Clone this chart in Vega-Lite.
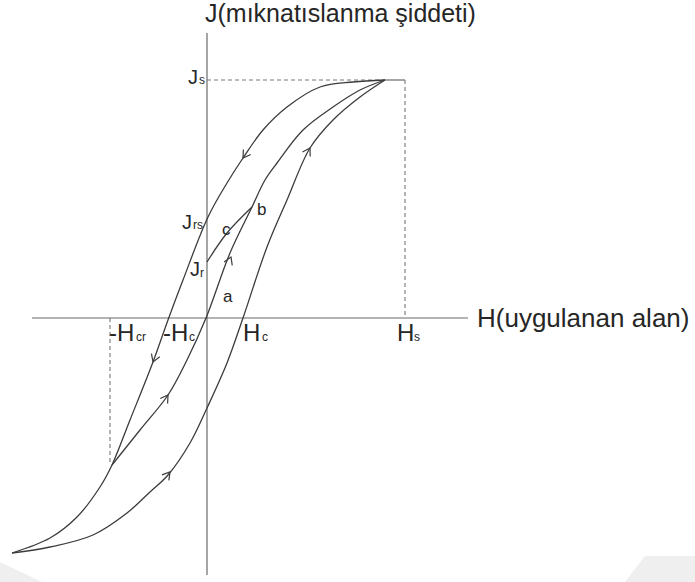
{
  "$schema": "https://vega.github.io/schema/vega-lite/v6.json",
  "width": 695,
  "height": 582,
  "padding": 0,
  "autosize": {"type": "fit", "contains": "padding"},
  "background": "white",
  "config": {"view": {"stroke": null}, "text": {"font": "Liberation Sans", "color": "#262626"}},
  "datasets": {
    "corners": [
      {"corner": "left", "H": -207, "J": -244, "J2": -264},
      {"corner": "left", "H": -165, "J": -264, "J2": -264},
      {"corner": "right", "H": 418, "J": -264, "J2": -264},
      {"corner": "right", "H": 438, "J": -238, "J2": -264},
      {"corner": "right", "H": 488, "J": -238, "J2": -264}
    ],
    "loop": [
      {"curve": "descending", "i": 0, "H": 178, "J": 238},
      {"curve": "descending", "i": 1, "H": 146, "J": 236},
      {"curve": "descending", "i": 2, "H": 113, "J": 231},
      {"curve": "descending", "i": 3, "H": 80, "J": 211},
      {"curve": "descending", "i": 4, "H": 56, "J": 188},
      {"curve": "descending", "i": 5, "H": 36, "J": 160},
      {"curve": "descending", "i": 6, "H": 20, "J": 135},
      {"curve": "descending", "i": 7, "H": 1, "J": 101},
      {"curve": "descending", "i": 8, "H": -24, "J": 38},
      {"curve": "descending", "i": 9, "H": -39, "J": -2},
      {"curve": "descending", "i": 10, "H": -54, "J": -44},
      {"curve": "descending", "i": 11, "H": -77, "J": -102},
      {"curve": "descending", "i": 12, "H": -95, "J": -147},
      {"curve": "descending", "i": 13, "H": -107, "J": -169},
      {"curve": "descending", "i": 14, "H": -130, "J": -199},
      {"curve": "descending", "i": 15, "H": -157, "J": -220},
      {"curve": "descending", "i": 16, "H": -195, "J": -235},
      {"curve": "ascending", "i": 0, "H": -195, "J": -235},
      {"curve": "ascending", "i": 1, "H": -157, "J": -229},
      {"curve": "ascending", "i": 2, "H": -114, "J": -217},
      {"curve": "ascending", "i": 3, "H": -80, "J": -195},
      {"curve": "ascending", "i": 4, "H": -57, "J": -174},
      {"curve": "ascending", "i": 5, "H": -39, "J": -157},
      {"curve": "ascending", "i": 6, "H": -17, "J": -125},
      {"curve": "ascending", "i": 7, "H": 0, "J": -90},
      {"curve": "ascending", "i": 8, "H": 20, "J": -45},
      {"curve": "ascending", "i": 9, "H": 36, "J": 0},
      {"curve": "ascending", "i": 10, "H": 60, "J": 71},
      {"curve": "ascending", "i": 11, "H": 80, "J": 118},
      {"curve": "ascending", "i": 12, "H": 103, "J": 170},
      {"curve": "ascending", "i": 13, "H": 126, "J": 198},
      {"curve": "ascending", "i": 14, "H": 153, "J": 221},
      {"curve": "ascending", "i": 15, "H": 178, "J": 238},
      {"curve": "minor", "i": 0, "H": -95, "J": -147},
      {"curve": "minor", "i": 1, "H": -67, "J": -112},
      {"curve": "minor", "i": 2, "H": -39, "J": -77},
      {"curve": "minor", "i": 3, "H": -20, "J": -42},
      {"curve": "minor", "i": 4, "H": -1, "J": 0},
      {"curve": "minor", "i": 5, "H": 23, "J": 65},
      {"curve": "minor", "i": 6, "H": 45, "J": 111},
      {"curve": "minor", "i": 7, "H": 58, "J": 138},
      {"curve": "minor", "i": 8, "H": 70, "J": 155},
      {"curve": "minor", "i": 9, "H": 96, "J": 188},
      {"curve": "minor", "i": 10, "H": 126, "J": 211},
      {"curve": "minor", "i": 11, "H": 153, "J": 228},
      {"curve": "minor", "i": 12, "H": 178, "J": 238},
      {"curve": "recoil", "i": 0, "H": 45, "J": 111},
      {"curve": "recoil", "i": 1, "H": 20, "J": 85},
      {"curve": "recoil", "i": 2, "H": 0, "J": 56}
    ],
    "arrows": [
      {"H": 36, "J": 160, "heading": 214},
      {"H": -54, "J": -44, "heading": 201},
      {"H": -39, "J": -77, "heading": 34},
      {"H": 24, "J": 61, "heading": 23},
      {"H": -37, "J": -154, "heading": 39},
      {"H": 103, "J": 170, "heading": 30}
    ],
    "axes": [
      {"name": "J axis", "H": 0, "J": -257, "H2": 0, "J2": 285},
      {"name": "H axis", "H": -175, "J": 0, "H2": 261, "J2": 0},
      {"name": "saturation cap", "H": 178, "J": 238, "H2": 198, "J2": 238}
    ],
    "guides": [
      {"name": "Js", "H": 0, "J": 238, "H2": 178, "J2": 238},
      {"name": "Hs", "H": 198, "J": 238, "H2": 198, "J2": 0},
      {"name": "-Hcr", "H": -97, "J": 0, "H2": -97, "J2": -147}
    ],
    "jLabels": [
      {"text": "J", "H": -19, "J": 234},
      {"text": "J", "H": -25, "J": 89},
      {"text": "J", "H": -17, "J": 42}
    ],
    "hLabels": [
      {"text": "-H", "H": -98, "J": -23},
      {"text": "-H", "H": -44, "J": -23},
      {"text": "H", "H": 36, "J": -23},
      {"text": "H", "H": 190, "J": -23}
    ],
    "subscripts": [
      {"text": "s", "H": -8, "J": 234},
      {"text": "rs", "H": -14, "J": 89},
      {"text": "r", "H": -7, "J": 41},
      {"text": "cr", "H": -71, "J": -23},
      {"text": "c", "H": -18, "J": -23},
      {"text": "c", "H": 55, "J": -23},
      {"text": "s", "H": 207, "J": -23}
    ],
    "points": [
      {"text": "a", "H": 16, "J": 16},
      {"text": "b", "H": 50, "J": 103},
      {"text": "c", "H": 15, "J": 83}
    ],
    "titles": [
      {"text": "J(mıknatıslanma şiddeti)", "H": -2, "J": 296, "size": "top"},
      {"text": "H(uygulanan alan)", "H": 270, "J": -9, "size": "side"}
    ]
  },
  "encoding": {
    "x": {"field": "H", "type": "quantitative", "scale": {"domain": [-207, 488], "nice": false, "zero": false}, "axis": null},
    "y": {"field": "J", "type": "quantitative", "scale": {"domain": [-264, 318], "nice": false, "zero": false}, "axis": null}
  },
  "layer": [
    {
      "data": {"name": "corners"},
      "mark": {"type": "area", "color": "#efefef", "orient": "vertical"},
      "encoding": {"y2": {"field": "J2"}, "detail": {"field": "corner"}}
    },
    {
      "data": {"name": "axes"},
      "mark": {"type": "rule", "color": "#6a6a6a", "strokeWidth": 1.2},
      "encoding": {"x2": {"field": "H2"}, "y2": {"field": "J2"}}
    },
    {
      "data": {"name": "guides"},
      "mark": {"type": "rule", "color": "#777777", "strokeWidth": 1.1, "strokeDash": [4, 3]},
      "encoding": {"x2": {"field": "H2"}, "y2": {"field": "J2"}}
    },
    {
      "data": {"name": "loop"},
      "mark": {"type": "line", "color": "#3c3c3c", "strokeWidth": 1.3, "interpolate": "catmull-rom"},
      "encoding": {"detail": {"field": "curve"}, "order": {"field": "i", "type": "quantitative"}}
    },
    {
      "data": {"name": "arrows"},
      "mark": {"type": "point", "shape": "M -0.55 0.9 L 0 0 L 0.55 0.9", "filled": false, "stroke": "#3c3c3c", "strokeWidth": 1.2, "size": 260, "opacity": 1},
      "encoding": {"angle": {"field": "heading", "type": "quantitative", "scale": null}}
    },
    {
      "data": {"name": "jLabels"},
      "mark": {"type": "text", "align": "left", "baseline": "alphabetic", "fontSize": 20},
      "encoding": {"text": {"field": "text"}}
    },
    {
      "data": {"name": "hLabels"},
      "mark": {"type": "text", "align": "left", "baseline": "alphabetic", "fontSize": 24},
      "encoding": {"text": {"field": "text"}}
    },
    {
      "data": {"name": "subscripts"},
      "mark": {"type": "text", "align": "left", "baseline": "alphabetic", "fontSize": 12},
      "encoding": {"text": {"field": "text"}}
    },
    {
      "data": {"name": "points"},
      "mark": {"type": "text", "align": "left", "baseline": "alphabetic", "fontSize": 17},
      "encoding": {"text": {"field": "text"}}
    },
    {
      "data": {"name": "titles"},
      "transform": [{"filter": "datum.size === 'top'"}],
      "mark": {"type": "text", "align": "left", "baseline": "alphabetic", "fontSize": 25},
      "encoding": {"text": {"field": "text"}}
    },
    {
      "data": {"name": "titles"},
      "transform": [{"filter": "datum.size === 'side'"}],
      "mark": {"type": "text", "align": "left", "baseline": "alphabetic", "fontSize": 26},
      "encoding": {"text": {"field": "text"}}
    }
  ]
}
